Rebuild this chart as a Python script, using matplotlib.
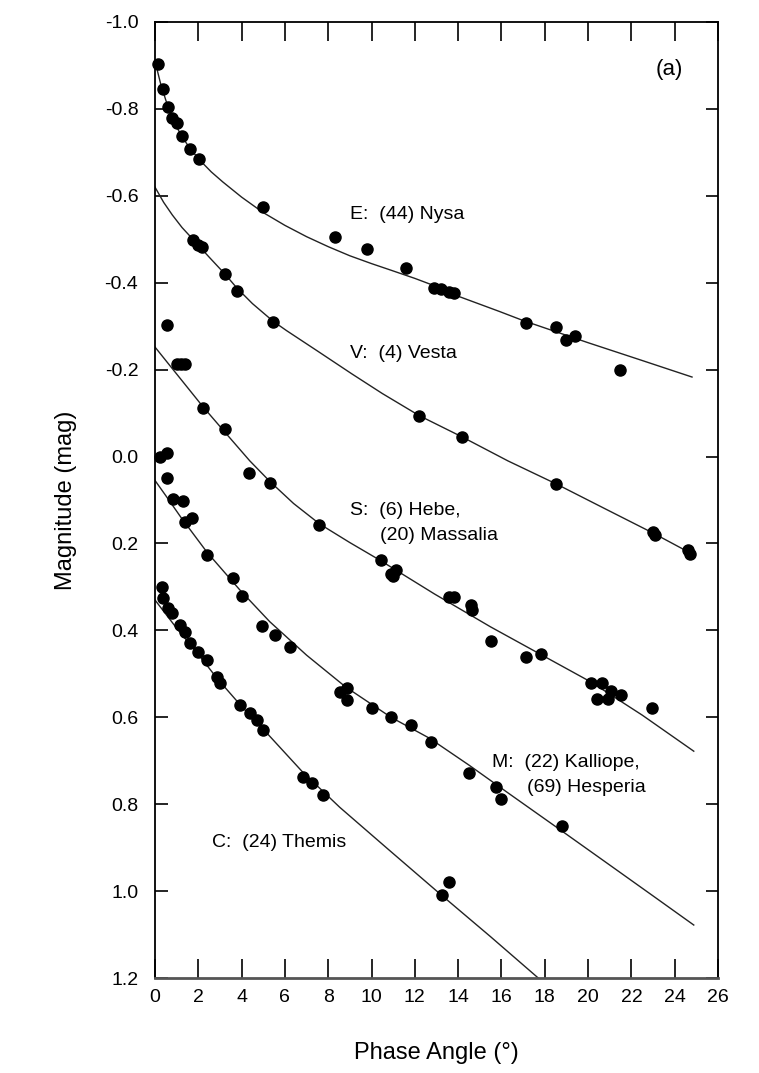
"""
Phase curves of asteroids of different taxonomic classes
"""

from matplotlib import pyplot as plt

plt.rcParams['font.family'] = ['Liberation Sans', 'DejaVu Sans']

# observed points (phase angle in deg, magnitude)
nysa_x = [0.14, 0.37, 0.6, 0.78, 1.01, 1.24, 1.61, 2.03, 4.98, 8.29, 9.77, 11.57,
          12.9, 13.23, 13.59, 13.82, 17.14, 18.53, 18.99, 19.4, 21.47]
nysa_y = [-0.903, -0.846, -0.804, -0.779, -0.768, -0.738, -0.708, -0.685, -0.574, -0.505, -0.478, -0.434,
          -0.388, -0.386, -0.379, -0.376, -0.307, -0.298, -0.268, -0.277, -0.199]

vesta_x = [1.75, 1.98, 2.17, 3.23, 3.78, 5.44, 12.21, 14.19, 18.53, 23.0, 23.09, 24.61, 24.7]
vesta_y = [-0.498, -0.487, -0.482, -0.42, -0.381, -0.31, -0.094, -0.045, 0.063, 0.174, 0.181, 0.215, 0.224]

hebe_x = [0.55, 1.0, 1.2, 1.4, 2.21, 3.23, 4.33, 5.3, 7.56, 10.46, 10.9, 11.15, 11.0,
          13.59, 13.82, 14.61, 14.65, 15.53, 17.14, 17.83, 20.14, 20.65, 20.41, 20.92,
          21.06, 21.52, 22.95]
hebe_y = [-0.303, -0.213, -0.213, -0.213, -0.112, -0.063, 0.038, 0.061, 0.158, 0.238, 0.27, 0.26, 0.275,
          0.323, 0.323, 0.342, 0.353, 0.425, 0.461, 0.455, 0.521, 0.521, 0.558, 0.558,
          0.54, 0.549, 0.579]

kalliope_x = [0.23, 0.55, 0.55, 0.83, 1.29, 1.38, 1.7, 2.4, 3.59, 4.0, 4.93, 5.53, 6.22,
              8.53, 8.85, 8.89, 10.0, 10.92, 11.84, 12.76, 14.52, 15.76, 15.99, 18.8]
kalliope_y = [0.001, -0.008, 0.05, 0.098, 0.102, 0.151, 0.141, 0.227, 0.28, 0.321, 0.39, 0.411, 0.438,
              0.542, 0.533, 0.56, 0.579, 0.6, 0.618, 0.657, 0.728, 0.761, 0.788, 0.85]

themis_x = [0.32, 0.37, 0.6, 0.78, 1.15, 1.38, 1.61, 1.98, 2.4, 2.86, 3.0, 3.92, 4.38,
            4.7, 4.98, 6.82, 7.24, 7.74, 13.27, 13.59]
themis_y = [0.30, 0.326, 0.349, 0.36, 0.388, 0.404, 0.429, 0.45, 0.468, 0.507, 0.521, 0.572, 0.59,
            0.606, 0.63, 0.738, 0.752, 0.779, 1.009, 0.979]

# fitted curves
nysa_fit_x = [0, 0.25, 0.5, 0.83, 1.2, 1.6, 2.07, 2.6, 3.13, 4.0, 4.98, 6.0, 7.0, 8.0, 9.0, 10.0,
              10.83, 12.0, 12.8, 14.0, 15.9, 17.0, 20.0, 22.5, 24.8]
nysa_fit_y = [-0.91, -0.86, -0.82, -0.775, -0.74, -0.71, -0.682, -0.655, -0.632, -0.597, -0.562,
              -0.532, -0.506, -0.483, -0.462, -0.444, -0.43, -0.41, -0.395, -0.369, -0.334, -0.313,
              -0.262, -0.221, -0.183]

vesta_fit_x = [0, 0.4, 0.8, 1.25, 1.75, 2.5, 3.23, 3.78, 4.5, 5.44, 6.07, 7.5, 9.1, 10.5, 12.21,
               14.19, 16.3, 18.53, 20.7, 23.0, 24.8]
vesta_fit_y = [-0.62, -0.585, -0.556, -0.527, -0.5, -0.459, -0.42, -0.388, -0.352, -0.312, -0.29,
               -0.243, -0.19, -0.145, -0.094, -0.045, 0.01, 0.063, 0.118, 0.176, 0.224]

hebe_fit_x = [0, 1.0, 2.21, 3.3, 4.38, 5.3, 6.4, 7.6, 9.0, 10.37, 12.9, 15.5, 17.8, 20.14, 22.5, 24.88]
hebe_fit_y = [-0.252, -0.19, -0.115, -0.052, 0.01, 0.057, 0.108, 0.155, 0.198, 0.238, 0.316, 0.392,
              0.455, 0.519, 0.595, 0.678]

kalliope_fit_x = [0, 0.5, 1.2, 2.4, 3.92, 5.3, 7.0, 8.8, 10.9, 12.67, 14.5, 16.36, 18.8, 21.0, 23.0, 24.88]
kalliope_fit_y = [0.055, 0.09, 0.14, 0.22, 0.307, 0.38, 0.457, 0.53, 0.6, 0.648, 0.71, 0.776, 0.862,
                  0.94, 1.011, 1.078]

themis_fit_x = [0, 1.0, 2.0, 2.86, 4.0, 5.16, 6.8, 8.53, 10.8, 13.13, 15.5, 17.7]
themis_fit_y = [0.33, 0.395, 0.455, 0.51, 0.575, 0.636, 0.725, 0.807, 0.905, 1.005, 1.105, 1.2]

x_ticks = list(range(0, 27, 2))
y_ticks = [-1.0, -0.8, -0.6, -0.4, -0.2, 0.0, 0.2, 0.4, 0.6, 0.8, 1.0, 1.2]

fig = plt.figure(figsize=(7.59, 10.73), dpi=100)
ax = fig.add_axes([0.2042, 0.0885, 0.7418, 0.891])

for fx, fy in [(nysa_fit_x, nysa_fit_y), (vesta_fit_x, vesta_fit_y), (hebe_fit_x, hebe_fit_y),
               (kalliope_fit_x, kalliope_fit_y), (themis_fit_x, themis_fit_y)]:
    ax.plot(fx, fy, color='#222222', lw=1.0, zorder=2)

for px, py in [(nysa_x, nysa_y), (vesta_x, vesta_y), (hebe_x, hebe_y),
               (kalliope_x, kalliope_y), (themis_x, themis_y)]:
    ax.plot(px, py, 'o', color='black', ms=8, zorder=3, clip_on=False)

ax.set_xlim(0, 26)
ax.set_ylim(1.2, -1.0)
ax.set_xticks(x_ticks)
ax.set_yticks(y_ticks)
ax.set_yticklabels(['%.1f' % v if v >= 0 else '-%.1f' % -v for v in y_ticks])

ax.tick_params(axis='x', direction='in', top=True, length=14, width=1.2, labelsize=14, pad=8)
ax.tick_params(axis='y', direction='in', right=True, length=9, width=1.2, labelsize=14, pad=12)
for sp in ax.spines.values():
    sp.set_linewidth(1.3)
ax.spines['bottom'].set_color('#555555')
ax.spines['bottom'].set_linewidth(2.0)

ax.set_xlabel('Phase Angle (°)', fontsize=17, labelpad=26)
ax.set_ylabel('Magnitude (mag)', fontsize=17, labelpad=20)

txt = dict(fontsize=14, va='center', ha='left')
ax.text(8.99, -0.556, 'E:  (44) Nysa', **txt)
ax.text(8.99, -0.238, 'V:  (4) Vesta', **txt)
ax.text(8.99, 0.123, 'S:  (6) Hebe,', **txt)
ax.text(10.37, 0.181, '(20) Massalia', **txt)
ax.text(15.58, 0.703, 'M:  (22) Kalliope,', **txt)
ax.text(17.19, 0.761, '(69) Hesperia', **txt)
ax.text(2.63, 0.887, 'C:  (24) Themis', **txt)
ax.text(23.1, -0.89, '(a)', fontsize=16, va='center', ha='left')

plt.savefig('out.png', dpi=100)
